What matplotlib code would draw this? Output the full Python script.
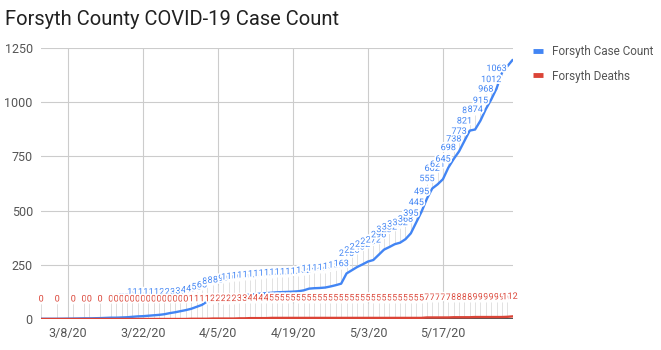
import pandas as pd
import matplotlib
import matplotlib.pyplot as plt
import matplotlib.dates as mdates
import matplotlib.patheffects as pe
from matplotlib.lines import Line2D

matplotlib.use("Agg")
plt.rcParams["font.family"] = ["Roboto", "DejaVu Sans"]

# Report dates: a few scattered early reports, then one per day
early_dates = ["2020-03-03", "2020-03-06", "2020-03-09",
               "2020-03-11", "2020-03-12", "2020-03-14"]
dates = pd.to_datetime(early_dates).append(pd.date_range("2020-03-16", "2020-05-30"))

cases = [1, 1, 2, 3, 3, 4,
         6, 6, 7, 8, 10, 12, 13, 15, 17, 19, 22, 27, 31, 36, 41, 47,
         56, 65, 81, 86, 88, 95,
         101, 104, 107, 110, 112, 115, 117, 119, 121, 123, 124, 125,
         126, 128, 132, 140, 142, 143, 145, 150, 156, 163, 210,
         225, 240, 252, 265, 272, 296, 320, 332, 345, 352, 368, 395,
         445, 495, 555, 602, 621, 645, 698, 738, 773, 821, 869, 874,
         915, 968, 1012, 1063, 1135, 1165, 1195]

deaths = [0, 0, 0, 0, 0, 0,
          0, 0, 0, 0, 0, 0, 0, 0, 0, 0, 0, 0, 0, 0, 0,
          1, 1, 1, 1,
          2, 2, 2, 2, 2,
          3, 3,
          4, 4, 4, 4,
          5, 5, 5, 5, 5, 5, 5, 5, 5, 5, 5, 5, 5, 5, 5, 5, 5, 5, 5, 5,
          5, 5, 5, 5, 5, 5, 5, 5, 5,
          7, 7, 7, 7, 7,
          8, 8, 8, 8,
          9, 9, 9, 9, 9, 9,
          10, 12]

tick_dates = pd.to_datetime(["2020-03-08", "2020-03-22", "2020-04-05",
                             "2020-04-19", "2020-05-03", "2020-05-17"])
y_ticks = [0, 250, 500, 750, 1000, 1250]

blue = "#4285f4"
red = "#db4437"

fig = plt.figure(figsize=(6.61, 3.5), dpi=100)
ax = fig.add_axes([0.0623, 0.0886, 0.7132, 0.7743])

ax.plot(dates, cases, color=blue, lw=1.7, zorder=3, solid_capstyle="round")
ax.plot(dates, deaths, color=red, lw=1.7, zorder=3.5)

ax.set_xlim(dates[0], dates[-1])
ax.set_ylim(0, 1250)
ax.set_yticks(y_ticks)
ax.set_xticks(tick_dates)
ax.xaxis.set_major_formatter(mdates.DateFormatter("%-m/%-d/%y"))
ax.grid(True, color="#cccccc", lw=0.8)
ax.set_axisbelow(True)
ax.axhline(0, color="#333333", lw=1.2, zorder=2)
for s in ax.spines.values():
    s.set_visible(False)
ax.tick_params(length=0, labelsize=9, labelcolor="#555555", pad=6)

# Value labels sit on short stems above each point
unit_px = ax.transData.transform((0, 1))[1] - ax.transData.transform((0, 0))[1]
plot_h = ax.bbox.height
halo = [pe.withStroke(linewidth=2.5, foreground="white")]


def label_series(values, color, z, floor_px=None):
    for x, v in zip(dates, values):
        h = v * unit_px
        lift = 20
        if floor_px is not None and v >= 10:
            lift = max(lift, floor_px - h)
        if h + lift > plot_h - 14:
            continue
        ax.vlines(x, v, v + (lift - 5) / unit_px, color="#dddddd", lw=0.6, zorder=1)
        ax.annotate(str(v), (x, v), xytext=(0, lift * 0.72), textcoords="offset points",
                    ha="center", va="center", fontsize=6.5, color=color, zorder=z,
                    path_effects=halo)


label_series(cases, blue, 4, floor_px=27)
label_series(deaths, red, 5)

fig.text(0.008, 0.943, "Forsyth County COVID-19 Case Count", fontsize=14.5,
         color="#212121", va="center")

handles = [Line2D([], [], color=blue, lw=3.5, solid_capstyle="butt"),
           Line2D([], [], color=red, lw=3.5, solid_capstyle="butt")]
ax.legend(handles, ["Forsyth Case Count", "Forsyth Deaths"], loc="upper left",
          bbox_to_anchor=(0.806, 0.872), bbox_transform=fig.transFigure,
          frameon=False, handlelength=0.9, handletextpad=0.7, labelspacing=1.0,
          fontsize=8.5, labelcolor="#555555", borderaxespad=0, borderpad=0)

fig.savefig("out.png", dpi=100)
